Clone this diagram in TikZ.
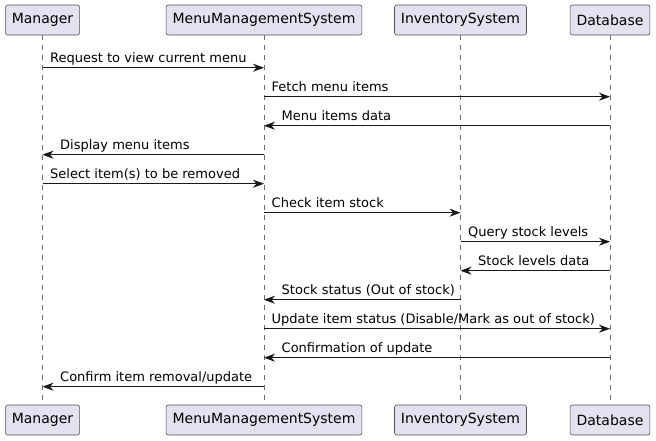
\documentclass[tikz,border=0pt]{standalone}
\usepackage{fontspec}
\setmainfont{DejaVu Sans}
\usetikzlibrary{arrows.meta}
\definecolor{partfill}{HTML}{E2E2F0}
\definecolor{ink}{HTML}{181818}

\begin{document}
\begin{tikzpicture}[x=1pt,y=-1pt]
    \tikzset{part/.style={draw=ink!75, fill=partfill, rounded corners=2.5pt, line width=0.6pt,
                          minimum height=30pt, inner xsep=6.5pt, font=\fontsize{14}{16}\selectfont},
             life/.style={ink!65, line width=0.5pt, dash pattern=on 5pt off 5pt},
             msg/.style={ink, line width=0.8pt, -{Stealth[length=11pt, width=8pt, inset=3.5pt]}},
             lbl/.style={inner sep=0pt, anchor=base west, font=\fontsize{13}{15}\selectfont}}
    \useasboundingbox (0,0) rectangle (656,440);

    % ---- Participants, top row ----
    \node[part] (m1) at (42.5,20) {Manager};
    \node[part] (s1) at (264,20) {MenuManagementSystem};
    \node[part] (i1) at (460.5,20) {InventorySystem};
    \node[part] (d1) at (610,20) {Database};

    % ---- Participants, bottom row ----
    \node[part] (m2) at (42.5,420) {Manager};
    \node[part] (s2) at (264,420) {MenuManagementSystem};
    \node[part] (i2) at (460.5,420) {InventorySystem};
    \node[part] (d2) at (610,420) {Database};

    % ---- Lifelines ----
    \draw[life] (m1) -- (m2);
    \draw[life] (s1) -- (s2);
    \draw[life] (i1) -- (i2);
    \draw[life] (d1) -- (d2);

    % ---- Messages ----
    \draw[msg] (m1 |- 0,67.7) -- (s1 |- 0,67.7);
    \node[lbl] (t1) at (50,62.2) {Request to view current menu};
    \draw[msg] (s1 |- 0,96.7) -- (d1 |- 0,96.7);
    \node[lbl] (t2) at (271.5,91.2) {Fetch menu items};
    \draw[msg] (d1 |- 0,125.7) -- (s1 |- 0,125.7);
    \node[lbl] (t3) at (281.5,120.2) {Menu items data};
    \draw[msg] (s1 |- 0,154.7) -- (m1 |- 0,154.7);
    \node[lbl] (t4) at (60,149.2) {Display menu items};
    \draw[msg] (m1 |- 0,183.7) -- (s1 |- 0,183.7);
    \node[lbl] (t5) at (50,178.2) {Select item(s) to be removed};
    \draw[msg] (s1 |- 0,212.7) -- (i1 |- 0,212.7);
    \node[lbl] (t6) at (271.5,207.2) {Check item stock};
    \draw[msg] (i1 |- 0,241.7) -- (d1 |- 0,241.7);
    \node[lbl] (t7) at (468,236.2) {Query stock levels};
    \draw[msg] (d1 |- 0,270.7) -- (i1 |- 0,270.7);
    \node[lbl] (t8) at (478,265.2) {Stock levels data};
    \draw[msg] (i1 |- 0,299.7) -- (s1 |- 0,299.7);
    \node[lbl] (t9) at (281.5,294.2) {Stock status (Out of stock)};
    \draw[msg] (s1 |- 0,328.7) -- (d1 |- 0,328.7);
    \node[lbl] (t10) at (271.5,323.2) {Update item status (Disable/Mark as out of stock)};
    \draw[msg] (d1 |- 0,357.7) -- (s1 |- 0,357.7);
    \node[lbl] (t11) at (281.5,352.2) {Confirmation of update};
    \draw[msg] (s1 |- 0,386.7) -- (m1 |- 0,386.7);
    \node[lbl] (t12) at (60,381.2) {Confirm item removal/update};
\end{tikzpicture}
\end{document}
